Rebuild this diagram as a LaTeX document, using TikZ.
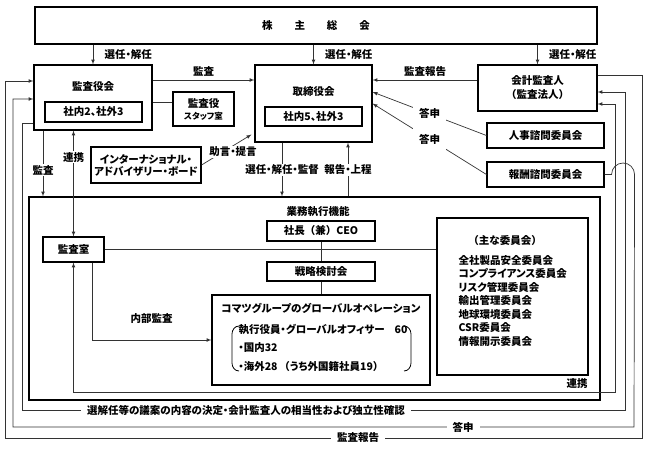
\documentclass[tikz,border=0pt]{standalone}
\usepackage{fontspec}
\setmainfont{Noto Sans CJK JP}[RawFeature=+palt]
\newfontfamily\jpfull{Noto Sans CJK JP}
\usetikzlibrary{calc,positioning,arrows}

\begin{document}
\begin{tikzpicture}[x=1pt,y=-1pt,
  every node/.style={font=\bfseries\fontsize{10.5}{14}\selectfont},
  box/.style={draw,line width=1.1pt,inner sep=0pt},
  wl/.style={fill=white,inner sep=1pt},
  con/.style={line width=0.7pt,draw=black!80},
  arr/.style={con,-latex}]
\useasboundingbox (0,0) rectangle (645,453);

% 株主総会
\node[box,minimum width=562,minimum height=37] (agm) at (316,25.5) {株\hspace{22pt}主\hspace{22pt}総\hspace{22pt}会};

% 監査役会 / 取締役会 / 会計監査人
\node[box,minimum width=118,minimum height=65] (kansayaku) at (93,97.5) {};
\node (kansayakuT) at (93,87) {監査役会};
\node[box,minimum width=97,minimum height=20] (kansayakuin) at (93.5,112) {社内2、社外3};
\node[box,minimum width=61,minimum height=34,align=center] (staff) at (203.5,109) {監査役\\[-2pt]{\fontsize{8.5}{10}\selectfont スタッフ室}};

\node[box,minimum width=117,minimum height=77] (torishimari) at (313.5,103.5) {};
\node (torishimariT) at (313.5,92) {取締役会};
\node[box,minimum width=97,minimum height=19] (torishimariin) at (313.5,116.5) {社内5、社外3};

\node[box,minimum width=119,minimum height=46,align=center] (kaikei) at (537.5,88) {会計監査人\\{\jpfull（監査法人）}};
\node[box,minimum width=117,minimum height=25] (jinji) at (545.5,135.5) {人事諮問委員会};
\node[box,minimum width=117,minimum height=25] (hoshu) at (545.5,174.5) {報酬諮問委員会};
\node[box,minimum width=110,minimum height=36,align=center] (advisory) at (146,165) {インターナショナル・\\[-2pt]アドバイザリー・ボード};

% 業務執行機能
\node[box,minimum width=571,minimum height=203] (gyomu) at (314.5,298.5) {};
\node (gyomuT) at (318,212) {業務執行機能};
\node[box,minimum width=61,minimum height=25] (kansashitsu) at (73.5,249.5) {監査室};
\node[box,minimum width=108,minimum height=20] (ceo) at (321,231) {社長{\jpfull（兼）}CEO};
\node[box,minimum width=108,minimum height=19] (senryaku) at (321,271.5) {戦略検討会};
\node[box,minimum width=218,minimum height=90] (global) at (321,340) {};
\node (globalT) at (321,308) {コマツグループのグローバルオペレーション};
\node[anchor=west] (officer) at (235,330) {執行役員・グローバルオフィサー\hspace{10pt}60};
\node[anchor=west] (domestic) at (235,348) {・国内32};
\node[anchor=west] (overseas) at (235,367) {・海外28\,{\jpfull（}うち外国籍社員19{\jpfull ）}};
\draw[line width=0.8pt] (239,326) to[out=180,in=90] (232,334) -- (232,363) to[out=-90,in=180] (239,371);
\draw[line width=0.8pt] (404,326) to[out=0,in=90] (411,334) -- (411,363) to[out=-90,in=0] (404,371);
\node[box,minimum width=151,minimum height=157] (iinkai) at (512.5,296.5) {};
\node (iinkaiT) at (505,241) {\jpfull（主な委員会）};
\node[anchor=west,align=left,font=\bfseries\fontsize{10.5}{13.5}\selectfont] (iinkaiL) at (455,300.5) {全社製品安全委員会\\コンプライアンス委員会\\リスク管理委員会\\輸出管理委員会\\地球環境委員会\\CSR委員会\\情報開示委員会};

% 選任・解任
\draw[arr] (agm.south -| kansayaku.north) -- (kansayaku.north) node[midway,right=8pt] (lsen1) {選任・解任};
\draw[arr] (agm.south -| torishimari.north) -- (torishimari.north) node[midway,right=8pt] (lsen2) {選任・解任};
\draw[arr] (agm.south -| kaikei.north) -- (kaikei.north) node[midway,right=8pt] (lsen3) {選任・解任};

\draw[arr] (kansayaku.east |- 0,80) -- (torishimari.west |- 0,80) node[midway,above=0pt] (lkansa) {監査};
\draw[con] (kansayaku.east |- 0,102) -- (staff.west |- 0,102);
\draw[arr] (kaikei.west |- 0,80) -- (torishimari.east |- 0,80) node[midway,above=0pt] (lhokoku) {監査報告};

% 答申
\draw[arr] (jinji.west) -- (torishimari.east |- 0,92) node[midway,wl,inner sep=6pt] (ltoshin1) {答申};
\draw[arr] (hoshu.west) -- (torishimari.east) node[midway,wl,inner sep=6pt] (ltoshin2) {答申};

\draw[arr] (advisory.east) -- ([xshift=-3pt,yshift=8pt]torishimari.south west);
\node[wl] (ladvice) at (233,152) {助言・提言};

\draw[arr] (torishimari.south -| 282,0) -- (gyomu.north -| 282,0) node[midway,wl] (lkantoku) {選任・解任・監督};
\draw[arr] (gyomu.north -| 348,0) -- (torishimari.south -| 348,0) node[midway,wl] (ljosei) {報告・上程};

\draw[arr] (kansayaku.south -| 43,0) -- (gyomu.north -| 43,0) node[pos=.6,wl] (lkansa2) {監査};
\draw[con,latex-latex] (kansayaku.south -| kansashitsu.north) -- (kansashitsu.north) node[pos=.25,wl] (lrenkei1) {連携};

% inside
\draw[con] (kansashitsu.east) -- (kansashitsu.east -| iinkai.west);
\draw[con] (ceo.south) -- (senryaku.north);
\draw[con] (senryaku.south) -- (global.north);
\draw[arr] (kansashitsu.south -| 92,0) |- (global.west) node[pos=.75,above=13pt] (lnaibu) {内部監査};

% outer loops
\coordinate (renkeiR) at (615,392);
\coordinate (senninR) at (625,410);
\coordinate (senninL) at (22,410);
\coordinate (toshinR) at (634,427);
\coordinate (toshinL) at (13,427);
\coordinate (hokokuR) at (642,438);
\coordinate (hokokuL) at (5,438);

\draw[con,latex-latex] (kaikei.east |- 0,104) -| (renkeiR) -| (kansashitsu.south);
\node (lrenkei2) at (577,384) {連携};
\draw[arr] (kansayaku.west |- 0,123) -| (senninL) -- (senninR) |- (kaikei.east |- 0,92);
\draw[arr] (hoshu.east) -- ++(7,0) arc[start angle=180,end angle=0,radius=11.5pt] -- (toshinR) -- (toshinL) |- (kansayaku.west |- 0,99);
\draw[arr] (kaikei.east |- 0,75) -| (hokokuR) -- (hokokuL) |- (kansayaku.west |- 0,81);

\node[wl,inner xsep=6pt] (lsennin) at (246,410) {選解任等の議案の内容の決定・会計監査人の相当性および独立性確認};
\node[wl,inner xsep=6pt] (ltoshin3) at (463,427) {答申};
\node[wl,inner xsep=6pt] (lhokoku2) at (358,438) {監査報告};
\end{tikzpicture}
\end{document}
